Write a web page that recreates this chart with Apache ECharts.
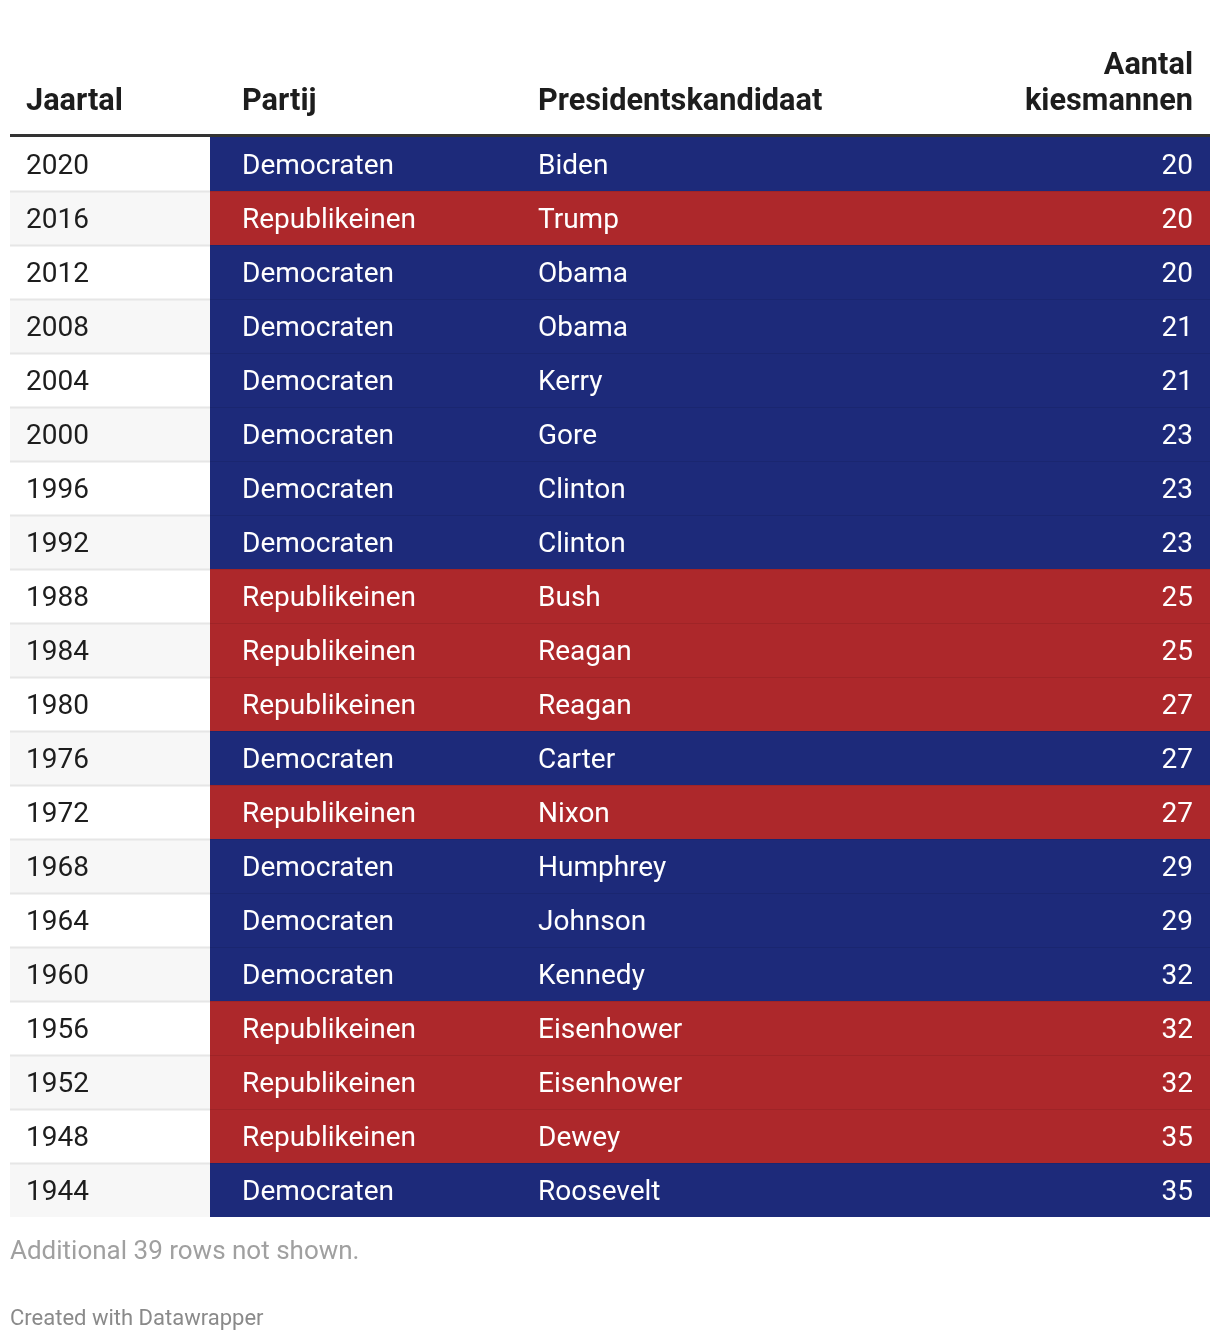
<!DOCTYPE html>
<html><head><meta charset="utf-8">
<script src="https://cdn.jsdelivr.net/npm/echarts@6/dist/echarts.min.js"></script>
<style>html,body{margin:0;padding:0;background:#fff}#c{width:1220px;height:1342px}</style>
</head><body><div id="c"></div>
<script>
const years = ['2020','2016','2012','2008','2004','2000','1996','1992','1988','1984','1980','1976','1972','1968','1964','1960','1956','1952','1948','1944'];
const parties = ['Democraten','Republikeinen','Democraten','Democraten','Democraten','Democraten','Democraten','Democraten','Republikeinen','Republikeinen','Republikeinen','Democraten','Republikeinen','Democraten','Democraten','Democraten','Republikeinen','Republikeinen','Republikeinen','Democraten'];
const candidates = ['Biden','Trump','Obama','Obama','Kerry','Gore','Clinton','Clinton','Bush','Reagan','Reagan','Carter','Nixon','Humphrey','Johnson','Kennedy','Eisenhower','Eisenhower','Dewey','Roosevelt'];
const electors = [20,20,20,21,21,23,23,23,25,25,27,27,27,29,29,32,32,32,35,35];
const headers = ['Jaartal','Partij','Presidentskandidaat','Aantal\nkiesmannen'];

const partyColor = {Democraten:'#1d2a7a', Republikeinen:'#ad282b'};
const FONT = 'Roboto, "Noto Sans", sans-serif';
// column layout in axis units (0..1200)
const COL = {yearStart:0, colorStart:200, end:1200, yearText:16, partyText:232, candText:528, numText:1183};

const chart = echarts.init(document.getElementById('c'), null, {renderer:'canvas'});
const option = {
  animation:false,
  grid:{left:10, right:10, top:137, height:1080},
  xAxis:{type:'value', min:0, max:1200, show:false},
  yAxis:{type:'category', data:years, inverse:true, show:false},
  series:[{
    type:'custom',
    data: years.map((y,i)=>[i, y, parties[i], candidates[i], electors[i]]),
    encode:{y:0},
    renderItem:function(params, api){
      const i = api.value(0);
      const c = api.coord([0, i]);
      const h = api.size([0,1])[1];
      const top = c[1] - h/2;
      const x = v => api.coord([v, i])[0];
      const party = parties[i];
      const col = partyColor[party];
      const mid = c[1] + 2.5;
      const f = '28px '+FONT;
      const children = [
        {type:'rect', shape:{x:x(COL.yearStart), y:top, width:x(COL.colorStart)-x(COL.yearStart), height:h}, style:{fill: i%2===1 ? '#f7f7f7' : '#ffffff'}},
        {type:'rect', shape:{x:x(COL.colorStart), y:top, width:x(COL.end)-x(COL.colorStart), height:h}, style:{fill:col}},
        {type:'text', style:{text:years[i], x:x(COL.yearText), y:mid, textVerticalAlign:'middle', fill:'#1d1d1d', font:f}},
        {type:'text', style:{text:party, x:x(COL.partyText), y:mid, textVerticalAlign:'middle', fill:'#ffffff', font:f}},
        {type:'text', style:{text:candidates[i], x:x(COL.candText), y:mid, textVerticalAlign:'middle', fill:'#ffffff', font:f}},
        {type:'text', style:{text:String(electors[i]), x:x(COL.numText), y:mid, textAlign:'right', textVerticalAlign:'middle', fill:'#ffffff', font:f}}
      ];
      if (i > 0) {
        children.push({type:'line', shape:{x1:x(COL.yearStart), y1:top+0.5, x2:x(COL.colorStart), y2:top+0.5}, style:{stroke:'#e6e6e6', lineWidth:2}});
        children.push({type:'line', shape:{x1:x(COL.colorStart), y1:top+0.5, x2:x(COL.end), y2:top+0.5}, style:{stroke:'rgba(0,0,0,0.08)', lineWidth:1}});
      }
      return {type:'group', children};
    }
  }],
  graphic:[
    {type:'text', style:{text:headers[0], x:26, y:102, textVerticalAlign:'middle', fill:'#1d1d1d', font:'bold 30.7px '+FONT}},
    {type:'text', style:{text:headers[1], x:242, y:102, textVerticalAlign:'middle', fill:'#1d1d1d', font:'bold 30.7px '+FONT}},
    {type:'text', style:{text:headers[2], x:538, y:102, textVerticalAlign:'middle', fill:'#1d1d1d', font:'bold 30.7px '+FONT}},
    {type:'text', style:{text:headers[3], x:1193, y:84, textAlign:'right', textVerticalAlign:'middle', fill:'#1d1d1d', font:'bold 30.7px '+FONT, lineHeight:36}},
    {type:'rect', shape:{x:10, y:134, width:1200, height:3}, style:{fill:'#333333'}},
    {type:'text', style:{text:'Additional 39 rows not shown.', x:10, y:1252, textVerticalAlign:'middle', fill:'#a0a0a0', font:'26px '+FONT}},
    {type:'text', style:{text:'Created with Datawrapper', x:10, y:1319, textVerticalAlign:'middle', fill:'#8a8a8a', font:'22px '+FONT}}
  ]
};
chart.setOption(option);
</script></body></html>
